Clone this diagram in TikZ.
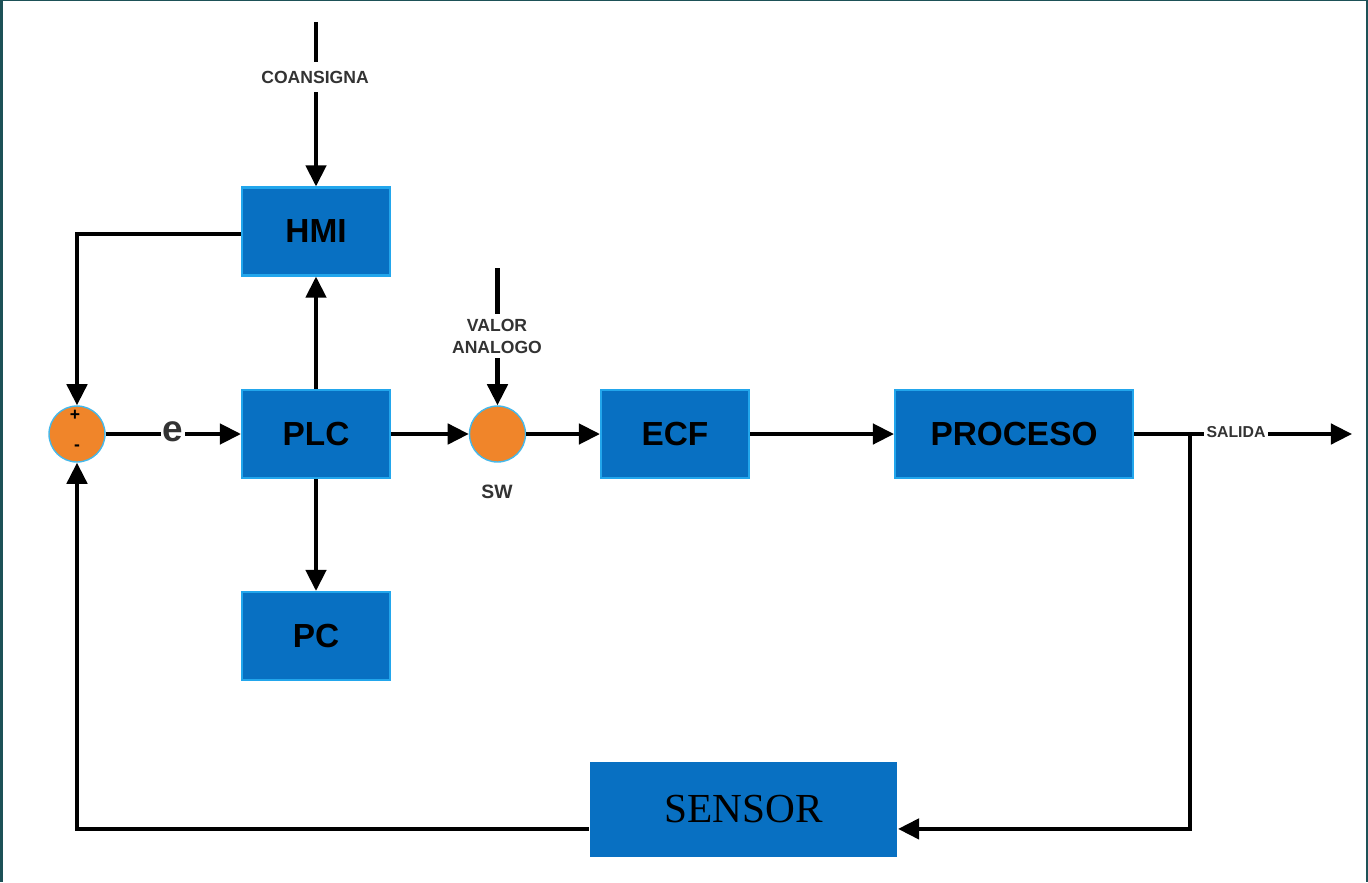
\documentclass[tikz,border=0pt]{standalone}
\usepackage{fontspec}
\setmainfont{Liberation Sans}
\newfontfamily\serifsensor{Liberation Serif}
\usetikzlibrary{arrows.meta,calc}
\definecolor{boxblue}{HTML}{0870C2}
\definecolor{boxedge}{HTML}{22A6EC}
\definecolor{junc}{HTML}{F0852A}
\definecolor{juncedge}{HTML}{45B8EA}
\definecolor{frameteal}{HTML}{1D5157}
\definecolor{smalltext}{HTML}{333333}
\tikzset{
  blk/.style={draw=boxedge, line width=1.2pt, fill=boxblue, minimum width=2.96cm, minimum height=1.76cm, inner sep=0pt, font=\fontsize{19}{19}\selectfont\bfseries, text=black},
  jn/.style={circle, draw=juncedge, line width=0.8pt, fill=junc, minimum size=1.12cm, inner sep=0pt},
  wire/.style={line width=2.3pt, black},
  arr/.style={wire, -{Triangle[length=12pt, width=11.5pt]}},
  smalllbl/.style={font=\fontsize{10}{11}\selectfont\bfseries, text=smalltext, fill=white, inner sep=3pt, align=center},
}
\begin{document}
\begin{tikzpicture}[x=0.02cm,y=-0.02cm]
\fill[frameteal] (0,0) rectangle (1368,882);
\fill[white] (3,1.5) rectangle (1366,882);
\useasboundingbox (0,0) rectangle (1368,882);

% blocks
\node[blk] (hmi) at (316,231.5) {HMI};
\node[blk] (plc) at (316,434) {PLC};
\node[blk] (pc) at (316,636) {PC};
\node[blk] (ecf) at (675,434) {ECF};
\node[blk, minimum width=4.76cm] (proc) at (1014,434) {PROCESO};
\node[blk, draw=none, fill=boxblue, minimum width=6.14cm, minimum height=1.9cm, font=\fontsize{23.5}{23.5}\serifsensor] (sensor) at (743.5,809.5) {SENSOR};

% junctions
\node[jn] (sum) at (77,434) {};
\node[jn] (sw) at (497.5,434) {};
\node[font=\fontsize{10}{10}\selectfont\bfseries, inner sep=0pt] (plus) at (75,415) {+};
\node[font=\fontsize{10}{10}\selectfont\bfseries, inner sep=0pt] (minus) at (77,448) {-};
\node[font=\fontsize{11}{11}\selectfont\bfseries, text=smalltext] (swl) at (497,492) {SW};

% inputs
\coordinate (cin) at (316,22);
\draw[arr] (cin) -- (hmi.north);
\node[smalllbl, inner sep=5pt] (coan) at (315,77) {COANSIGNA};

\coordinate (vin) at (497.5,268);
\draw[arr] (vin) -- (sw.north);
\node[smalllbl, inner sep=3pt, font=\fontsize{10}{12.5}\selectfont\bfseries] (val) at (497,336) {VALOR\\ANALOGO};

% forward path
\draw[arr] (sum.east) -- (plc.west);
\node[fill=white, inner sep=1pt, font=\fontsize{21}{21}\selectfont\bfseries, text=smalltext] (e) at (173,432) {e};
\draw[arr] (plc.north) -- (hmi.south);
\draw[arr] (plc.south) -- (pc.north);
\draw[arr] (plc.east) -- (sw.west);
\draw[arr] (sw.east) -- (ecf.west);
\draw[arr] (ecf.east) -- (proc.west);

% output
\coordinate (br) at (1190,434);
\coordinate (out) at (1352,434);
\draw[arr] (proc.east) -- (br) -- (out);
\node[fill=white, inner sep=1.5pt, font=\fontsize{9}{9}\selectfont\bfseries, text=smalltext] (sal) at (1236,432) {SALIDA};

% feedback
\draw[arr] (br) |- ($(sensor.south east)!0.3!(sensor.north east)$);
\draw[arr] ($(sensor.south west)!0.3!(sensor.north west)$) -| (sum.south);
\draw[arr] (hmi.west |- 0,234) -| (sum.north);
\end{tikzpicture}
\end{document}
